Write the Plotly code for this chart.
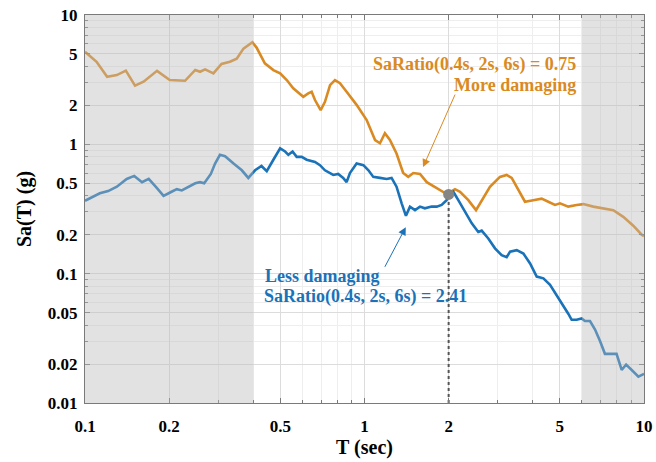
import plotly.graph_objects as go
import math

# ---- data ----
T_orange = [0.100, 0.110, 0.120, 0.130, 0.140, 0.151, 0.162, 0.181, 0.201, 0.228,
            0.248, 0.258, 0.269, 0.288, 0.308, 0.330, 0.349, 0.369, 0.397, 0.411,
            0.440, 0.472, 0.499, 0.527, 0.556, 0.604, 0.629, 0.647, 0.665, 0.697,
            0.722, 0.753, 0.784, 0.817, 0.863, 0.937, 1.018, 1.091, 1.136, 1.183,
            1.233, 1.302, 1.375, 1.434, 1.495, 1.580, 1.670, 1.813, 1.941, 2.000,
            2.107, 2.197, 2.352, 2.506, 2.626, 2.811, 3.052, 3.226, 3.363, 3.551,
            3.751, 4.015, 4.302, 4.545, 4.804, 5.005, 5.358, 5.741, 6.066, 6.587,
            7.150, 7.765, 8.431, 9.154, 9.810, 10.0]
Sa_orange = [5.2, 4.35, 3.33, 3.43, 3.71, 2.84, 3.05, 3.70, 3.14, 3.10,
             3.76, 3.64, 3.80, 3.54, 4.18, 4.35, 4.6, 5.5, 6.15, 5.6,
             4.23, 3.75, 3.54, 3.14, 2.71, 2.33, 2.48, 2.55, 2.20, 1.84,
             2.13, 2.87, 3.14, 2.97, 2.55, 2.02, 1.54, 1.08, 1.02, 1.22,
             1.08, 0.85, 0.60, 0.56, 0.60, 0.59, 0.51, 0.456, 0.42, 0.42,
             0.45, 0.43, 0.37, 0.31, 0.37, 0.47, 0.56, 0.58, 0.55, 0.44,
             0.36, 0.37, 0.38, 0.36, 0.34, 0.35, 0.33, 0.34, 0.345, 0.33,
             0.32, 0.31, 0.275, 0.235, 0.20, 0.195]

T_blue = [0.100, 0.106, 0.113, 0.121, 0.130, 0.141, 0.150, 0.160, 0.169, 0.179,
          0.191, 0.204, 0.213, 0.222, 0.234, 0.248, 0.258, 0.267, 0.282, 0.292,
          0.304, 0.317, 0.340, 0.364, 0.384, 0.406, 0.428, 0.447, 0.472, 0.499,
          0.520, 0.534, 0.553, 0.572, 0.596, 0.621, 0.665, 0.693, 0.722, 0.773,
          0.805, 0.839, 0.863, 0.887, 0.937, 0.991, 1.033, 1.075, 1.136, 1.200,
          1.250, 1.302, 1.358, 1.407, 1.454, 1.516, 1.580, 1.644, 1.738, 1.813,
          1.888, 1.967, 1.995, 2.079, 2.166, 2.291, 2.420, 2.553, 2.626, 2.773,
          2.930, 3.095, 3.226, 3.318, 3.505, 3.703, 3.912, 4.132, 4.365, 4.611,
          4.871, 5.146, 5.358, 5.510, 5.741, 5.984, 6.147, 6.409, 6.681, 6.966,
          7.248, 7.556, 7.977, 8.318, 8.630, 9.036, 9.550, 10.0]
Sa_blue = [0.366, 0.39, 0.418, 0.435, 0.47, 0.54, 0.57, 0.51, 0.54, 0.47,
           0.40, 0.43, 0.45, 0.44, 0.47, 0.50, 0.51, 0.50, 0.59, 0.71,
           0.83, 0.81, 0.71, 0.63, 0.55, 0.63, 0.68, 0.62, 0.76, 0.93,
           0.88, 0.83, 0.88, 0.80, 0.80, 0.76, 0.73, 0.69, 0.63, 0.58,
           0.59, 0.55, 0.51, 0.60, 0.71, 0.69, 0.63, 0.56, 0.55, 0.54,
           0.55, 0.47, 0.35, 0.28, 0.33, 0.31, 0.33, 0.32, 0.33, 0.33,
           0.34, 0.37, 0.40, 0.43, 0.37, 0.30, 0.245, 0.21, 0.215, 0.187,
           0.157, 0.139, 0.134, 0.148, 0.152, 0.143, 0.12, 0.095, 0.092, 0.082,
           0.068, 0.057, 0.049, 0.044, 0.044, 0.045, 0.043, 0.043, 0.037, 0.030,
           0.024, 0.024, 0.024, 0.018, 0.0198, 0.018, 0.016, 0.0168]

T_mark = [2.0]
Sa_mark = [0.41]
T_lo, T_mid, T_hi = 0.4, 2.0, 6.0

x_ticks = [0.1, 0.2, 0.5, 1, 2, 5, 10]
x_ticklabels = ["0.1", "0.2", "0.5", "1", "2", "5", "10"]
y_ticks = [0.01, 0.02, 0.05, 0.1, 0.2, 0.5, 1, 2, 5, 10]
y_ticklabels = ["0.01", "0.02", "0.05", "0.1", "0.2", "0.5", "1", "2", "5", "10"]

orange_text1 = "SaRatio(0.4s, 2s, 6s) = 0.75"
orange_text2 = "More damaging"
blue_text1 = "Less damaging"
blue_text2 = "SaRatio(0.4s, 2s, 6s) = 2.41"

# ---- style ----
ORANGE = "#DA8A22"
BLUE = "#1A72B8"
FONT = "Liberation Serif"

minor_vals = [m * 10 ** e for e in (-2, -1, 0) for m in range(1, 10)] + [10]
minor_x = [m * 10 ** e for e in (-1, 0) for m in range(1, 10)] + [10]

fig = go.Figure()

fig.add_trace(go.Scatter(x=[T_mid, T_mid], y=[0.01, Sa_mark[0]], mode="lines",
                         line=dict(color="#555555", width=2, dash="dot"),
                         showlegend=False))
fig.add_trace(go.Scatter(x=T_orange, y=Sa_orange, mode="lines",
                         line=dict(color=ORANGE, width=2.6), showlegend=False))
fig.add_trace(go.Scatter(x=T_blue, y=Sa_blue, mode="lines",
                         line=dict(color=BLUE, width=2.6), showlegend=False))
fig.add_trace(go.Scatter(x=T_mark, y=Sa_mark, mode="markers",
                         marker=dict(color="#858585", size=11), showlegend=False))

# shaded regions outside [0.4, 6] s
for x0, x1 in [(0.1, T_lo), (T_hi, 10)]:
    fig.add_shape(type="rect", xref="x", yref="paper",
                  x0=x0, x1=x1, y0=0, y1=1,
                  fillcolor="rgba(185,185,185,0.42)", line=dict(width=0),
                  layer="above")

FS = 17
tfont = dict(family=FONT, size=FS, color="black", weight="bold")
afont_o = dict(family=FONT, size=18, color=ORANGE, weight="bold")
afont_b = dict(family=FONT, size=18, color=BLUE, weight="bold")

fig.add_annotation(xref="paper", yref="paper", x=0.882, y=0.905,
                   text=orange_text1, showarrow=False, xanchor="right", font=afont_o)
fig.add_annotation(xref="paper", yref="paper", x=0.882, y=0.851,
                   text=orange_text2, showarrow=False, xanchor="right", font=afont_o)
fig.add_annotation(xref="paper", yref="paper", x=0.318, y=0.296,
                   text=blue_text1, showarrow=False, xanchor="left", font=afont_b)
fig.add_annotation(xref="paper", yref="paper", x=0.316, y=0.242,
                   text=blue_text2, showarrow=False, xanchor="left", font=afont_b)

# arrows
fig.add_annotation(xref="x", yref="y", axref="x", ayref="y",
                   x=math.log10(1.62), y=math.log10(0.667),
                   ax=math.log10(2.12), ay=math.log10(2.49),
                   text="", showarrow=True, arrowhead=2, arrowsize=1.6,
                   arrowwidth=1, arrowcolor=ORANGE)
fig.add_annotation(xref="x", yref="y", axref="x", ayref="y",
                   x=math.log10(1.405), y=math.log10(0.229),
                   ax=math.log10(1.175), ay=math.log10(0.110),
                   text="", showarrow=True, arrowhead=2, arrowsize=1.6,
                   arrowwidth=1, arrowcolor=BLUE)

axis_common = dict(type="log", showline=True, linecolor="#7a7a7a", linewidth=1,
                   mirror="allticks", ticks="inside", ticklen=5, tickcolor="#7a7a7a",
                   showgrid=True, gridcolor="#dcdcdc", gridwidth=1,
                   tickfont=tfont, zeroline=False, automargin=False)

fig.update_xaxes(**axis_common, range=[-1, 1], tickvals=x_ticks, ticktext=x_ticklabels,
                 ticklabelstandoff=8,
                 minor=dict(tickvals=minor_x, showgrid=True, gridcolor="#eeeeee",
                            ticks="inside", ticklen=3, tickcolor="#7a7a7a"),
                 title=dict(text="T (sec)", font=dict(family=FONT, size=20, color="black",
                                                       weight="bold"), standoff=2))
fig.update_yaxes(**axis_common, range=[-2, 1], tickvals=y_ticks, ticktext=y_ticklabels,
                 ticklabelstandoff=3,
                 minor=dict(tickvals=minor_vals, showgrid=True, gridcolor="#eeeeee",
                            ticks="inside", ticklen=3, tickcolor="#7a7a7a"),
                 title=dict(text="Sa(T) (g)", font=dict(family=FONT, size=20, color="black",
                                                         weight="bold"), standoff=10))

fig.update_layout(width=656, height=462, margin=dict(l=85, r=12, t=15, b=59),
                  plot_bgcolor="white", paper_bgcolor="white")

fig.write_html("out.html")
